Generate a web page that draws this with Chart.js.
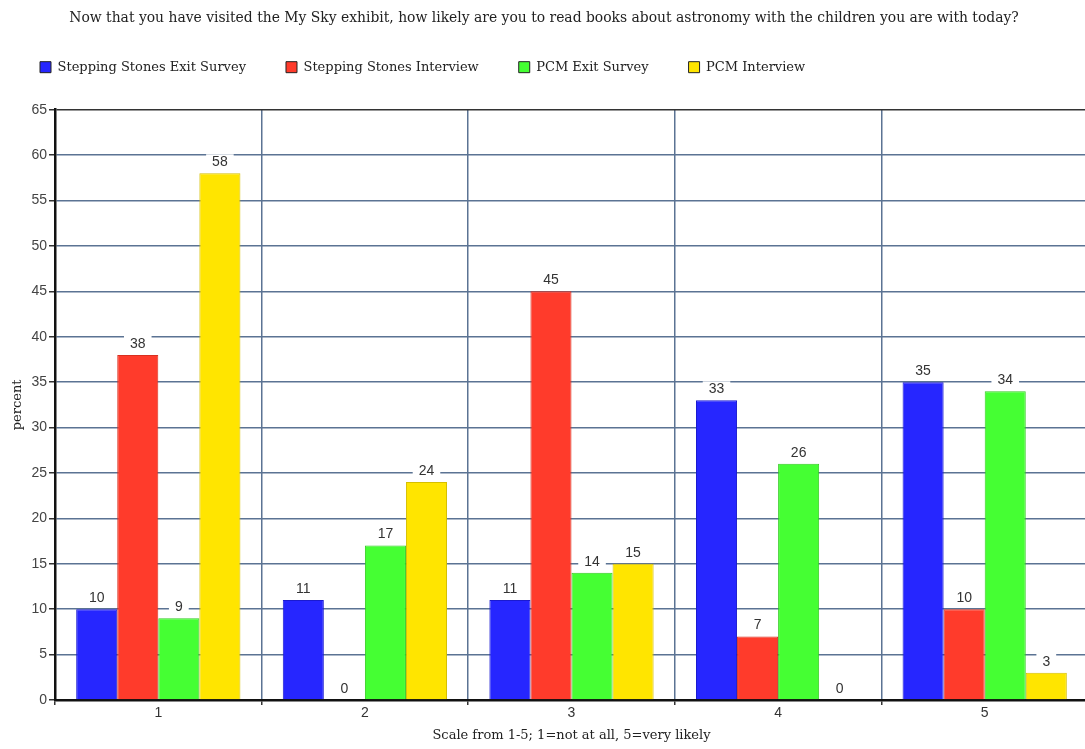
<!DOCTYPE html>
<html>
<head>
<meta charset="utf-8">
<title>My Sky exhibit – reading astronomy books</title>
<script src="https://cdn.jsdelivr.net/npm/chart.js@4.4.1/dist/chart.umd.min.js"></script>
<style>
  html, body { margin: 0; padding: 0; background: #ffffff; overflow: hidden; }
  #wrap { width: 1088px; height: 749px; position: relative; }
</style>
</head>
<body>
<div id="wrap"><canvas id="chart"></canvas></div>
<script>
// Response scale categories (1 = not at all, 5 = very likely)
const categories = ['1', '2', '3', '4', '5'];

// Percent of respondents per group
const steppingStonesExitSurvey = [10, 11, 11, 33, 35];
const steppingStonesInterview  = [38, 0, 45, 7, 10];
const pcmExitSurvey            = [9, 17, 14, 26, 34];
const pcmInterview             = [58, 24, 15, 0, 3];

const seriesNames = [
  'Stepping Stones Exit Survey',
  'Stepping Stones Interview',
  'PCM Exit Survey',
  'PCM Interview'
];

const yTicks = { min: 0, max: 65, step: 5 };

const fills   = ['#2626ff', '#ff3b2b', '#45ff33', '#ffe500'];
const edges   = ['#1a1ad0', '#d83020', '#33cc22', '#d6bf00'];

const serifFont = "'DejaVu Serif', 'Liberation Serif', serif";
const sansFont  = "'Liberation Sans', Arial, sans-serif";
const gridColor = '#5b7393';

// Value labels above each bar, on a white plate that breaks the gridlines
const valueLabels = {
  id: 'valueLabels',
  afterDatasetsDraw(chart) {
    const ctx = chart.ctx;
    ctx.save();
    ctx.font = '14px ' + sansFont;
    ctx.textAlign = 'center';
    ctx.textBaseline = 'middle';
    chart.data.datasets.forEach((ds, di) => {
      const meta = chart.getDatasetMeta(di);
      meta.data.forEach((bar, i) => {
        const txt = String(ds.data[i]);
        const w = ctx.measureText(txt).width;
        const cy = bar.y - 11;
        ctx.fillStyle = '#ffffff';
        ctx.fillRect(bar.x - w / 2 - 6, cy - 8, w + 12, 16);
        ctx.fillStyle = '#333333';
        ctx.fillText(txt, bar.x, cy);
      });
    });
    ctx.restore();
  }
};

// Extra room under the legend row before the plot starts
const legendSpacer = {
  id: 'legendSpacer',
  afterInit(chart) {
    const lg = chart.legend;
    if (!lg) return;
    const fit = lg.fit;
    lg.fit = function () {
      fit.call(this);
      this.height += 26;
    };
  }
};

const datasets = [steppingStonesExitSurvey, steppingStonesInterview, pcmExitSurvey, pcmInterview]
  .map((values, i) => ({
    label: seriesNames[i],
    data: values,
    backgroundColor: fills[i],
    borderColor: edges[i],
    borderWidth: { top: 1, left: 1, right: 1, bottom: 0 },
    borderSkipped: 'bottom',
    categoryPercentage: 0.795,
    barPercentage: 1.0
  }));

new Chart(document.getElementById('chart'), {
  type: 'bar',
  data: { labels: categories, datasets },
  plugins: [valueLabels, legendSpacer],
  options: {
    responsive: true,
    maintainAspectRatio: false,
    animation: false,
    layout: { padding: { top: 0, left: 0, right: 0, bottom: 0 } },
    plugins: {
      tooltip: { enabled: false },
      title: {
        display: true,
        text: 'Now that you have visited the My Sky exhibit, how likely are you to read books about astronomy with the children you are with today?',
        color: '#222222',
        font: { family: serifFont, size: 13.9, weight: 'normal' },
        padding: { top: 10, bottom: -6 }
      },
      legend: {
        display: true,
        position: 'top',
        align: 'start',
        labels: {
          color: '#222222',
          font: { family: serifFont, size: 13 },
          boxWidth: 11,
          boxHeight: 11,
          padding: 40,
          generateLabels(chart) {
            return chart.data.datasets.map((ds, i) => ({
              text: ds.label,
              fillStyle: ds.backgroundColor,
              strokeStyle: '#222222',
              lineWidth: 1,
              hidden: false,
              datasetIndex: i,
              fontColor: '#222222'
            }));
          }
        }
      }
    },
    scales: {
      x: {
        afterFit(scale) { scale.height = 49; },
        grid: {
          display: true,
          offset: true,
          color: gridColor,
          lineWidth: 1.5,
          drawTicks: true,
          tickLength: 5,
          tickColor: '#333333'
        },
        border: { display: true, color: '#111111', width: 2.5 },
        ticks: {
          color: '#333333',
          font: { family: sansFont, size: 14 },
          padding: 0,
          maxRotation: 0
        },
        title: {
          display: true,
          text: 'Scale from 1-5; 1=not at all, 5=very likely',
          color: '#222222',
          font: { family: serifFont, size: 13 },
          padding: { top: 6, bottom: 6 }
        }
      },
      y: {
        min: yTicks.min,
        max: yTicks.max,
        afterFit(scale) { scale.width = 55; },
        grid: {
          color: (c) => (c.tick && c.tick.value === yTicks.max ? '#333333' : gridColor),
          lineWidth: 1.5,
          drawTicks: true,
          tickLength: 6,
          tickColor: '#333333'
        },
        border: { display: true, color: '#111111', width: 2.5 },
        ticks: {
          stepSize: yTicks.step,
          color: '#444444',
          font: { family: sansFont, size: 14 },
          padding: 2
        },
        title: {
          display: true,
          text: 'percent',
          color: '#222222',
          font: { family: serifFont, size: 13 },
          padding: { top: 10, bottom: 0 }
        }
      }
    }
  }
});
</script>
</body>
</html>
